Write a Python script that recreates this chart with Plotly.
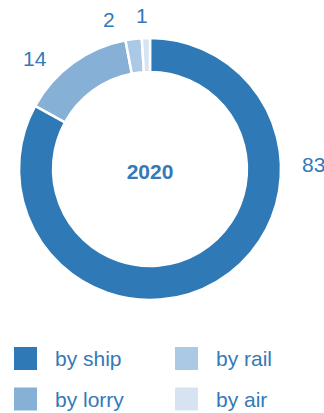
import plotly.graph_objects as go

# data
year = "2020"
modes = ["by ship", "by lorry", "by rail", "by air"]
shares = [83, 14, 2, 1]
colors = ["#2f79b6", "#86b0d6", "#abc9e5", "#d6e4f2"]
legend_order = ["by ship", "by rail", "by lorry", "by air"]

TEXT = "#3479b8"
FONT = "Liberation Sans, Arial, sans-serif"
W, H = 324, 413


def px(x):
    return x / W


def py(y):
    return 1 - y / H


# donut geometry in screen pixels (centre 150,169 ; outer radius 131)
cx, cy, r = 150, 169, 131

fig = go.Figure(go.Pie(
    labels=modes,
    values=shares,
    sort=False,
    direction="clockwise",
    rotation=0,
    hole=0.74,
    marker=dict(colors=colors, line=dict(color="white", width=2.5)),
    textinfo="none",
    hoverinfo="label+value",
    showlegend=False,
    title=dict(text=year, position="middle center",
               font=dict(family=FONT, size=21, color=TEXT, weight="bold")),
    domain=dict(x=[px(cx - r), px(cx + r)], y=[py(cy + r), py(cy - r)]),
))

# value labels around the ring (left edge / vertical centre, screen pixels)
label_pos = {"by ship": (300, 165), "by lorry": (21, 59), "by rail": (101, 19), "by air": (134, 15)}
for m, v in zip(modes, shares):
    lx, ly = label_pos[m]
    fig.add_annotation(x=px(lx), y=py(ly), xref="paper", yref="paper",
                       text=str(v), showarrow=False, xanchor="left", yanchor="middle",
                       font=dict(family=FONT, size=21, color=TEXT))

# legend: 2 columns x 2 rows, square swatches
col_x = [14, 175]
row_y = [358.5, 399]
sq = 23
for i, m in enumerate(legend_order):
    c = colors[modes.index(m)]
    x0 = col_x[i % 2]
    yc = row_y[i // 2]
    fig.add_shape(type="rect", xref="paper", yref="paper",
                  x0=px(x0), x1=px(x0 + sq),
                  y0=py(yc + sq / 2), y1=py(yc - sq / 2),
                  fillcolor=c, line=dict(width=0))
    fig.add_annotation(x=px(x0 + 39), y=py(yc), xref="paper", yref="paper",
                       text=m, showarrow=False, xanchor="left", yanchor="middle",
                       font=dict(family=FONT, size=21, color=TEXT))

fig.update_layout(
    width=W, height=H,
    margin=dict(l=0, r=0, t=0, b=0),
    paper_bgcolor="white",
    plot_bgcolor="white",
    font=dict(family=FONT, color=TEXT),
)

# drop the default 8px page margin so the figure fills the window
fig.write_html("out.html", config={"displayModeBar": False},
               post_script="document.body.style.margin='0';document.body.style.overflow='hidden';")
